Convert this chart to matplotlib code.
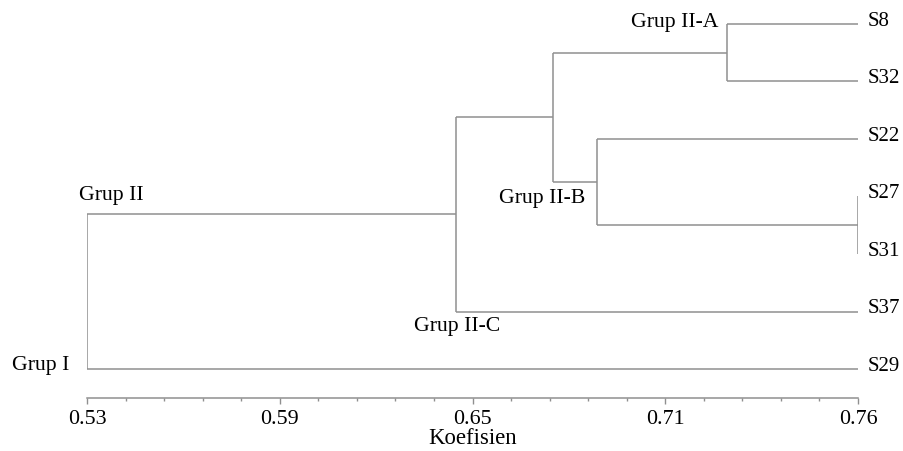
import numpy as np
import matplotlib
matplotlib.use("Agg")
import matplotlib.pyplot as plt

# leaves, top to bottom
leaves = ["S8", "S32", "S22", "S27", "S31", "S37", "S29"]

# merges in the style of a linkage table: ids < 7 are leaves, new ids start at 7
merge_left = [3, 0, 2, 8, 10, 11]
merge_right = [4, 1, 7, 9, 5, 6]
merge_coef = [0.760, 0.721, 0.682, 0.669, 0.640, 0.530]

tick_values = np.linspace(0.53, 0.76, 5)
tick_labels = ["0.53", "0.59", "0.65", "0.71", "0.76"]

plt.rcParams["font.family"] = ["Liberation Serif", "DejaVu Serif"]
line_color = "#8f8f8f"

fig = plt.figure(figsize=(9.04, 4.51), dpi=100)
ax = fig.add_axes([87 / 904, 1 - 398 / 451, (858 - 87) / 904, (398 - 10) / 451])

# positions of each cluster (x = coefficient, y = leaf row)
xmax = max(tick_values)
pos = {i: (xmax, float(i)) for i in range(len(leaves))}
for k, (a, b, c) in enumerate(zip(merge_left, merge_right, merge_coef)):
    xa, ya = pos[a]
    xb, yb = pos[b]
    ax.plot([xa, c], [ya, ya], color=line_color, lw=1.1, solid_capstyle="butt")
    ax.plot([xb, c], [yb, yb], color=line_color, lw=1.1, solid_capstyle="butt")
    ax.plot([c, c], [ya, yb], color=line_color, lw=1.1, solid_capstyle="butt")
    pos[len(leaves) + k] = (c, (ya + yb) / 2)

# leaf labels
for i, name in enumerate(leaves):
    ax.annotate(name, (xmax, i), xytext=(7, 2), textcoords="offset points",
                ha="left", va="center", fontsize=15, annotation_clip=False)

# group labels
def group_label(text, xy, off, ha, va):
    ax.annotate(text, xy, xytext=off, textcoords="offset points",
                ha=ha, va=va, fontsize=15.7, annotation_clip=False)

root_x = merge_coef[-1]
group_label("Grup II-A", (pos[8][0], 0), (-6, 1), "right", "center")
group_label("Grup II-B", pos[9], (-8, -12), "right", "center")
group_label("Grup II-C", (pos[11][0], 5), (1, -11), "center", "center")
group_label("Grup II", (root_x, pos[11][1]), (-6, 14), "left", "center")
group_label("Grup I", (root_x, 6), (-13, 2.5), "right", "center")

ax.set_xlim(0.53, 0.76)
ax.set_ylim(6 + (398 - 369) / 57.5, -(24 - 10) / 57.5)

ax.set_xticks(tick_values)
ax.set_xticklabels(tick_labels, fontsize=15.8)
ax.set_xticks(np.linspace(0.53, 0.76, 21), minor=True)
ax.tick_params(axis="x", which="major", length=4, width=1, color=line_color, pad=5)
ax.tick_params(axis="x", which="minor", length=2.5, width=1, color=line_color)
ax.set_yticks([])
for s in ["top", "right", "left"]:
    ax.spines[s].set_visible(False)
ax.spines["bottom"].set_color(line_color)
ax.spines["bottom"].set_linewidth(1.1)
ax.set_xlabel("Koefisien", fontsize=16.4, labelpad=-1)

fig.savefig("out.png", dpi=100)
